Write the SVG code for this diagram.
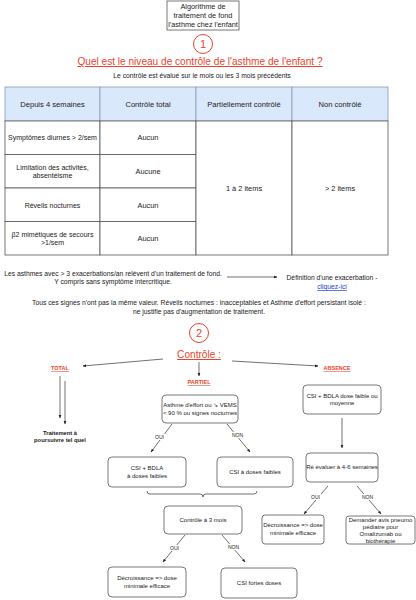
<svg xmlns="http://www.w3.org/2000/svg" width="416" height="600" viewBox="0 0 416 600">
<defs>
<style>
text{font-family:"Liberation Sans",Arial,sans-serif;fill:#222;text-anchor:middle}
.s{font-size:6px}
.n{font-size:6.75px}
.ti{font-size:7.3px}
.t{font-size:7px}
.a{font-size:7.4px}
.h{font-size:7.6px}
.red{fill:#e8432e}
.lbl{font-size:5.5px;font-weight:bold;fill:#e8432e;text-decoration:underline}
.box{fill:#fff;stroke:#555;stroke-width:0.8}
.ln{stroke:#333;stroke-width:0.7;fill:none}
.cell{fill:#fff;stroke:#555;stroke-width:0.8}
.hcell{fill:#dae8fc;stroke:#8a9ab5;stroke-width:0.8}
.yn{font-size:5px}
</style>
<marker id="ar" viewBox="0 0 10 10" refX="9" refY="5" markerWidth="5" markerHeight="5" orient="auto">
<path d="M0,1 L10,5 L0,9 Z" fill="#222"/>
</marker>
</defs>

<g id="title">
<rect x="167" y="1" width="72" height="29" fill="#fff" stroke="#555" stroke-width="0.8"/>
<text class="ti" x="203" y="8.5">Algorithme de</text>
<text class="ti" x="203" y="17.5">traitement de fond</text>
<text class="ti" x="203" y="26.5">l'asthme chez l'enfant</text>
</g>

<g id="step1">
<circle cx="203" cy="44" r="9.5" fill="#fff" stroke="#e8432e" stroke-width="1"/>
<text x="203" y="48" style="font-size:11px" class="red">1</text>
<text x="200" y="65" style="font-size:10.1px;text-decoration:underline" class="red">Quel est le niveau de contrôle de l'asthme de l'enfant ?</text>
<text class="n" x="202" y="78">Le contrôle est évalué sur le mois ou les 3 mois précédents</text>
</g>

<g id="table">
<rect class="hcell" x="5" y="87" width="95" height="34"/>
<rect class="hcell" x="100" y="87" width="96" height="34"/>
<rect class="hcell" x="196" y="87" width="96" height="34"/>
<rect class="hcell" x="292" y="87" width="96" height="34"/>
<text class="h" x="52.5" y="106.5">Depuis 4 semaines</text>
<text class="h" x="148" y="106.5">Contrôle total</text>
<text class="h" x="244" y="106.5">Partiellement contrôlé</text>
<text class="h" x="340" y="106.5">Non contrôlé</text>
<rect class="cell" x="5" y="121" width="95" height="33.5"/>
<rect class="cell" x="5" y="154.5" width="95" height="33.5"/>
<rect class="cell" x="5" y="188" width="95" height="33.5"/>
<rect class="cell" x="5" y="221.5" width="95" height="33.5"/>
<rect class="cell" x="100" y="121" width="96" height="33.5"/>
<rect class="cell" x="100" y="154.5" width="96" height="33.5"/>
<rect class="cell" x="100" y="188" width="96" height="33.5"/>
<rect class="cell" x="100" y="221.5" width="96" height="33.5"/>
<rect class="cell" x="196" y="121" width="96" height="134"/>
<rect class="cell" x="292" y="121" width="96" height="134"/>
<text class="t" x="52.5" y="140">Symptômes diurnes &gt; 2/sem</text>
<text class="t" x="52.5" y="169.5">Limitation des activités,</text>
<text class="t" x="52.5" y="177.5">absentéisme</text>
<text class="t" x="52.5" y="207.5">Réveils nocturnes</text>
<text class="t" x="52.5" y="236.5">β2 mimétiques de secours</text>
<text class="t" x="52.5" y="245">&gt;1/sem</text>
<text class="a" x="148" y="140">Aucun</text>
<text class="a" x="148" y="174">Aucune</text>
<text class="a" x="148" y="207.5">Aucun</text>
<text class="a" x="148" y="241">Aucun</text>
<text class="a" x="244" y="190.5">1 à 2 items</text>
<text class="a" x="340" y="190.5">&gt; 2 items</text>
</g>

<g id="notes">
<text class="n" x="113" y="276">Les asthmes avec &gt; 3 exacerbations/an relèvent d'un traitement de fond.</text>
<text class="n" x="113" y="284">Y compris sans symptôme intercritique.</text>
<text class="n" x="332" y="280">Définition d'une exacerbation -</text>
<text class="n" x="332" y="289" style="fill:#1a3bd6;text-decoration:underline">cliquez-ici</text>
<text class="n" x="199" y="305">Tous ces signes n'ont pas la même valeur. Réveils nocturnes : inacceptables et Asthme d'effort persistant isolé :</text>
<text class="n" x="199" y="314">ne justifie pas d'augmentation de traitement.</text>
</g>

<g id="step2">
<circle cx="199" cy="333" r="9.5" fill="#fff" stroke="#e8432e" stroke-width="1"/>
<text x="199" y="337" style="font-size:11px" class="red">2</text>
<text x="199" y="358" style="font-size:10.1px;text-decoration:underline" class="red">Contrôle :</text>
</g>

<g id="total">
<text class="lbl" x="60" y="370">TOTAL</text>
<text x="60" y="435" style="font-size:5.8px;font-weight:bold">Traitement à</text>
<text x="60" y="441.5" style="font-size:5.8px;font-weight:bold">poursuivre tel quel</text>
</g>
<g id="partiel">
<text class="lbl" x="199" y="384">PARTIEL</text>
</g>
<g id="absence">
<text class="lbl" x="337" y="370">ABSENCE</text>
</g>

<g id="n-asthme">
<rect class="box" x="162" y="395" width="76" height="28" rx="4"/>
<text class="s" x="200" y="407">Asthme d'effort ou ↘ VEMS</text>
<text class="s" x="200" y="415">&lt; 90 % ou signes nocturnes</text>
</g>
<g id="n-csibdla">
<rect class="box" x="108" y="457" width="78" height="30" rx="4"/>
<text class="s" x="147" y="470">CSI + BDLA</text>
<text class="s" x="147" y="478">à doses faibles</text>
</g>
<g id="n-csifaible">
<rect class="box" x="217" y="457" width="76" height="30" rx="4"/>
<text class="s" x="255" y="474">CSI à doses faibles</text>
</g>
<g id="n-ctrl3">
<rect class="box" x="164" y="506" width="78" height="28" rx="4"/>
<text class="s" x="203" y="522">Contrôle à 3 mois</text>
</g>
<g id="n-decr1">
<rect class="box" x="108" y="567" width="78" height="30" rx="4"/>
<text class="s" x="147" y="580">Décroissance =&gt; dose</text>
<text class="s" x="147" y="588">minimale efficace</text>
</g>
<g id="n-csifortes">
<rect class="box" x="221" y="568" width="76" height="30" rx="4"/>
<text class="s" x="259" y="585">CSI fortes doses</text>
</g>
<g id="n-absbox">
<rect class="box" x="303" y="385" width="78" height="29" rx="4"/>
<text class="s" x="342" y="398">CSI + BDLA dose faible ou</text>
<text class="s" x="342" y="405">moyenne</text>
</g>
<g id="n-reeval">
<rect class="box" x="306" y="453" width="72" height="29" rx="4"/>
<text class="s" x="342" y="469">Ré évaluer à 4-6 semaines</text>
</g>
<g id="n-decr2">
<rect class="box" x="262" y="515" width="62" height="29" rx="3"/>
<text class="s" x="293" y="527">Décroissance =&gt; dose</text>
<text class="s" x="293" y="535">minimale efficace</text>
</g>
<g id="n-avis">
<rect class="box" x="346" y="516" width="69" height="28" rx="3"/>
<text class="s" x="380.5" y="521.5">Demander avis pneumo</text>
<text class="s" x="380.5" y="528.5">pédiatre pour</text>
<text class="s" x="380.5" y="535.5">Omalizumab ou</text>
<text class="s" x="380.5" y="542.5">biothérapie</text>
</g>

<g id="connectors">
<line class="ln" x1="227" y1="277" x2="277" y2="277" marker-end="url(#ar)"/>
<line class="ln" x1="163" y1="359" x2="83" y2="366" marker-end="url(#ar)"/>
<line class="ln" x1="232" y1="361" x2="318" y2="366" marker-end="url(#ar)"/>
<line class="ln" x1="199" y1="362" x2="199" y2="376" marker-end="url(#ar)"/>
<line class="ln" x1="60" y1="376" x2="60" y2="418" marker-end="url(#ar)"/>
<line class="ln" x1="65" y1="381" x2="65" y2="424" marker-end="url(#ar)"/>
<line class="ln" x1="172" y1="424" x2="151" y2="452" marker-end="url(#ar)"/>
<line class="ln" x1="227" y1="424" x2="250" y2="452" marker-end="url(#ar)"/>
<path class="ln" d="M147,491 Q147,494 150,494 L200,494 Q203,494 203,497 Q203,494 206,494 L254,494 Q257,494 257,491"/>
<line class="ln" x1="185" y1="535" x2="163" y2="562" marker-end="url(#ar)"/>
<line class="ln" x1="222" y1="535" x2="245" y2="562" marker-end="url(#ar)"/>
<line class="ln" x1="342" y1="418" x2="342" y2="448" marker-end="url(#ar)"/>
<line class="ln" x1="328" y1="486" x2="304" y2="514" marker-end="url(#ar)"/>
<line class="ln" x1="357" y1="486" x2="381" y2="514" marker-end="url(#ar)"/>
<rect x="154" y="434" width="11" height="6" fill="#fff"/>
<text class="yn" x="159.5" y="439">OUI</text>
<rect x="231" y="432" width="13" height="6" fill="#fff"/>
<text class="yn" x="237.5" y="437">NON</text>
<rect x="169" y="545" width="11" height="6" fill="#fff"/>
<text class="yn" x="174.5" y="550">OUI</text>
<rect x="227" y="544" width="13" height="6" fill="#fff"/>
<text class="yn" x="233.5" y="549">NON</text>
<rect x="310" y="494" width="11" height="6" fill="#fff"/>
<text class="yn" x="315.5" y="499">OUI</text>
<rect x="361" y="494" width="13" height="6" fill="#fff"/>
<text class="yn" x="367.5" y="499">NON</text>
</g>
</svg>
